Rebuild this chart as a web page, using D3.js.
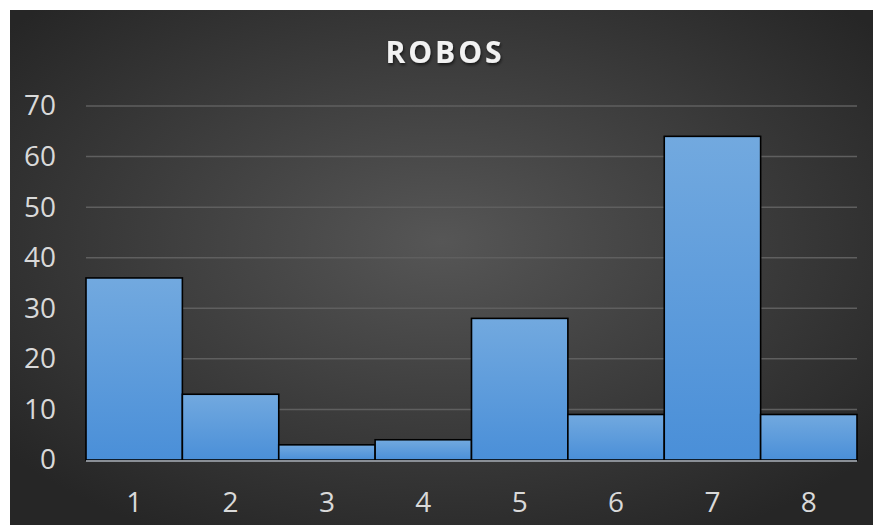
<!DOCTYPE html>
<html>
<head>
<meta charset="utf-8">
<script src="https://cdn.jsdelivr.net/npm/d3@7"></script>
<style>
  html, body { margin: 0; padding: 0; background: #fff; }
  svg { display: block; }
  text { font-family: "Open Sans", "Noto Sans", sans-serif; }
</style>
</head>
<body>
<div id="chart"></div>
<script>
  const categories = ["1", "2", "3", "4", "5", "6", "7", "8"];
  const values = [36, 13, 3, 4, 28, 9, 64, 9];
  const yTicks = [0, 10, 20, 30, 40, 50, 60, 70];
  const title = "ROBOS";

  const width = 873;
  const height = 525;
  const margin = { top: 106, right: 16, bottom: 65, left: 86 };

  const svg = d3
    .select("#chart")
    .append("svg")
    .attr("width", width)
    .attr("height", height);

  const defs = svg.append("defs");

  const bg = defs
    .append("radialGradient")
    .attr("id", "bg")
    .attr("cx", "50%")
    .attr("cy", "45%")
    .attr("r", "65%");
  bg.append("stop").attr("offset", "0%").attr("stop-color", "#565656");
  bg.append("stop").attr("offset", "100%").attr("stop-color", "#262626");

  const barFill = defs
    .append("linearGradient")
    .attr("id", "barFill")
    .attr("x1", 0)
    .attr("y1", 0)
    .attr("x2", 0)
    .attr("y2", 1);
  barFill.append("stop").attr("offset", "0%").attr("stop-color", "#72a9df");
  barFill.append("stop").attr("offset", "100%").attr("stop-color", "#4a8fd8");

  const shadow = defs.append("filter").attr("id", "shadow").attr("x", "-10%").attr("y", "-20%").attr("width", "120%").attr("height", "150%");
  shadow
    .append("feDropShadow")
    .attr("dx", 1)
    .attr("dy", 2)
    .attr("stdDeviation", 1.5)
    .attr("flood-color", "#000")
    .attr("flood-opacity", 0.6);

  // chart area (white strip on top and left as in the screenshot)
  svg
    .append("rect")
    .attr("x", 10)
    .attr("y", 10)
    .attr("width", width - 10)
    .attr("height", height - 10)
    .attr("fill", "url(#bg)");

  const x = d3
    .scaleBand()
    .domain(categories)
    .range([margin.left, width - margin.right])
    .padding(0);

  const y = d3
    .scaleLinear()
    .domain([0, 70])
    .range([height - margin.bottom, margin.top]);

  // gridlines
  svg
    .append("g")
    .selectAll("line")
    .data(yTicks.filter((d) => d > 0))
    .join("line")
    .attr("x1", margin.left)
    .attr("x2", width - margin.right)
    .attr("y1", (d) => y(d))
    .attr("y2", (d) => y(d))
    .attr("stroke", "#5f5f5f")
    .attr("stroke-width", 1.5);

  // y labels
  const yAxis = d3.axisLeft(y).tickValues(yTicks).tickSize(0).tickPadding(30);
  svg
    .append("g")
    .attr("transform", `translate(${margin.left},0)`)
    .call(yAxis)
    .call((g) => g.select(".domain").remove())
    .call((g) =>
      g
        .selectAll("text")
        .attr("fill", "#d9d9d9")
        .attr("font-size", 28)
        .attr("font-family", '"Open Sans", sans-serif')
    );

  // bars
  svg
    .append("g")
    .selectAll("rect")
    .data(values)
    .join("rect")
    .attr("x", (d, i) => x(categories[i]))
    .attr("y", (d) => y(d))
    .attr("width", x.bandwidth())
    .attr("height", (d) => y(0) - y(d))
    .attr("fill", "url(#barFill)")
    .attr("stroke", "#000")
    .attr("stroke-width", 1.6);

  // baseline
  svg
    .append("line")
    .attr("x1", margin.left)
    .attr("x2", width - margin.right)
    .attr("y1", y(0) + 1)
    .attr("y2", y(0) + 1)
    .attr("stroke", "#8a8f96")
    .attr("stroke-width", 2);

  // x labels
  const xAxis = d3.axisBottom(x).tickSize(0).tickPadding(32);
  svg
    .append("g")
    .attr("transform", `translate(0,${y(0)})`)
    .call(xAxis)
    .call((g) => g.select(".domain").remove())
    .call((g) =>
      g
        .selectAll("text")
        .attr("fill", "#d9d9d9")
        .attr("font-size", 28)
        .attr("font-family", '"Open Sans", sans-serif')
    );

  // title
  svg
    .append("text")
    .attr("x", 445)
    .attr("y", 63)
    .attr("text-anchor", "middle")
    .attr("fill", "#f2f2f2")
    .attr("font-size", 30)
    .attr("font-weight", "bold")
    .attr("letter-spacing", 3)
    .attr("filter", "url(#shadow)")
    .text(title);
</script>
</body>
</html>
